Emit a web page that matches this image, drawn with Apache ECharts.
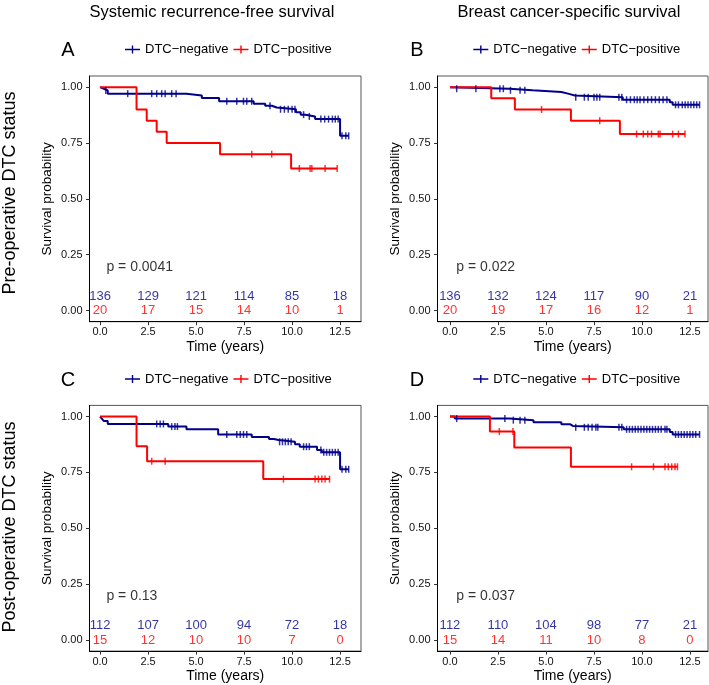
<!DOCTYPE html>
<html>
<head>
<meta charset="utf-8">
<script src="https://cdn.jsdelivr.net/npm/echarts@6/dist/echarts.min.js"></script>
<style>html,body{margin:0;padding:0;background:#fff}#c{width:709px;height:685px}</style>
</head>
<body>
<div id="c"></div>
<script>
// ---------- data ----------
const xTicks = [0, 2.5, 5, 7.5, 10, 12.5];
const yTicks = [0, 0.25, 0.5, 0.75, 1];
const legendNames = ['DTC\u2212negative', 'DTC\u2212positive'];
const panelLetters = ['A', 'B', 'C', 'D'];
const columnTitles = ['Systemic recurrence-free survival', 'Breast cancer-specific survival'];
const rowTitles = ['Pre-operative DTC status', 'Post-operative DTC status'];
const pValues = ['p = 0.0041', 'p = 0.022', 'p = 0.13', 'p = 0.037'];

// KM steps [time, survival after event]
const aNegSteps = [[0,1],[0.1,0.993],[0.2,0.985],[0.4,0.971],[4.5,0.963],[5.3,0.952],[6.2,0.937],[8.0,0.926],[8.6,0.917],[8.95,0.909],[9.2,0.901],[10.2,0.888],[10.45,0.877],[10.7,0.869],[11.2,0.857],[12.5,0.782]];
const aNegCens = [0.3,1.44,2.69,2.95,3.21,3.39,3.73,3.96,6.6,7.12,7.47,7.64,7.9,8.85,9.4,9.6,9.8,10.0,10.15,10.6,10.9,11.5,11.7,11.9,12.1,12.25,12.4,12.6,12.8,12.95];
const aPosSteps = [[0,1],[1.9,0.9],[2.43,0.85],[2.95,0.8],[3.47,0.75],[6.25,0.7],[9.95,0.636]];
const aPosCens = [7.9,8.94,10.38,10.94,11.03,11.72,12.35];

const bNegSteps = [[0,1],[0.1,0.993],[3.1,0.986],[4.3,0.978],[5.8,0.970],[6.2,0.963],[6.5,0.955],[9.0,0.944],[11.45,0.932],[11.6,0.921]];
const bNegCens = [0.35,1.35,2.6,2.78,3.15,3.65,3.9,6.55,7.0,7.2,7.5,7.65,7.8,8.8,8.95,9.2,9.4,9.6,9.75,9.9,10.1,10.3,10.5,10.7,10.9,11.1,11.3,11.75,11.9,12.1,12.25,12.4,12.55,12.7,12.85,13.0];
const bPosSteps = [[0,1],[2.15,0.95],[3.38,0.9],[6.3,0.85],[8.85,0.79]];
const bPosCens = [4.77,7.8,9.72,10.07,10.3,10.5,10.85,10.94,11.6,11.9,12.24];

const cNegSteps = [[0,1],[0.1,0.99],[0.2,0.98],[0.4,0.967],[3.55,0.955],[4.5,0.943],[6.15,0.92],[7.9,0.909],[8.8,0.90],[9.05,0.895],[9.3,0.887],[10.15,0.876],[10.4,0.865],[11.3,0.85],[11.55,0.84],[12.5,0.764]];
const cNegCens = [2.95,3.13,3.3,3.73,3.9,4.03,6.6,7.12,7.3,7.47,7.64,9.35,9.5,9.65,9.8,9.95,10.6,10.75,10.9,11.5,11.65,11.8,11.95,12.1,12.25,12.4,12.6,12.8,12.95];
const cPosSteps = [[0,1],[1.9,0.867],[2.45,0.8],[8.5,0.72]];
const cPosCens = [2.69,3.39,9.55,11.2,11.37,11.55,11.72,11.95];

const dNegSteps = [[0,1],[0.25,0.991],[3.1,0.984],[4.35,0.975],[5.8,0.966],[6.25,0.958],[6.4,0.952],[9.05,0.943],[11.45,0.931],[11.6,0.92]];
const dNegCens = [0.35,2.86,3.3,3.65,3.9,6.55,7.0,7.2,7.4,7.6,7.7,8.8,8.95,9.2,9.35,9.5,9.65,9.8,9.95,10.1,10.25,10.4,10.55,10.7,10.85,11.0,11.2,11.3,11.75,11.9,12.05,12.2,12.35,12.5,12.65,12.8,13.0];
const dPosSteps = [[0,1],[2.08,0.933],[3.35,0.861],[6.3,0.775]];
const dPosCens = [2.57,3.28,9.46,10.6,11.2,11.37,11.55,11.72,11.85];

// numbers at risk at xTicks
const aNegRisk = [136,129,121,114,85,18];
const aPosRisk = [20,17,15,14,10,1];
const bNegRisk = [136,132,124,117,90,21];
const bPosRisk = [20,19,17,16,12,1];
const cNegRisk = [112,107,100,94,72,18];
const cPosRisk = [15,12,10,10,7,0];
const dNegRisk = [112,110,104,98,77,21];
const dPosRisk = [15,14,11,10,8,0];

// ---------- build ----------
const BLUE = '#00008B', RED = '#FF0000';
const FONT = '"Liberation Sans", Arial, Helvetica, sans-serif';
const plusIcon = 'path://M0,3.2 H15 V4.8 H0 Z M6.8,0 H8.2 V8 H6.8 Z';

const panels = [
  {neg:aNegSteps, negC:aNegCens, pos:aPosSteps, posC:aPosCens, nr:aNegRisk, pr:aPosRisk, grid:{left:89.5, top:76, width:271.5, height:245.7}, xmin:-0.55, xmax:13.59, legend:{left:125, top:43}},
  {neg:bNegSteps, negC:bNegCens, pos:bPosSteps, posC:bPosCens, nr:bNegRisk, pr:bPosRisk, grid:{left:437.5, top:76, width:270.5, height:245.7}, xmin:-0.65, xmax:13.44, legend:{left:473.3, top:43}},
  {neg:cNegSteps, negC:cNegCens, pos:cPosSteps, posC:cPosCens, nr:cNegRisk, pr:cPosRisk, grid:{left:89.5, top:405.4, width:271.5, height:245.7}, xmin:-0.55, xmax:13.59, legend:{left:125, top:372.5}},
  {neg:dNegSteps, negC:dNegCens, pos:dPosSteps, posC:dPosCens, nr:dNegRisk, pr:dPosRisk, grid:{left:437.5, top:405.4, width:270.5, height:245.7}, xmin:-0.65, xmax:13.44, legend:{left:473.3, top:372.5}}
];

function survAt(steps, t) {
  let s = steps[0][1];
  for (const [ti, si] of steps) { if (ti <= t) s = si; }
  return s;
}
function lineData(steps, cens) {
  const d = steps.slice();
  const last = Math.max(...cens);
  if (last > d[d.length - 1][0]) d.push([last, d[d.length - 1][1]]);
  return d;
}

const grids = [], xAxes = [], yAxes = [], series = [], legends = [];
panels.forEach((p, i) => {
  grids.push(Object.assign({show:true, borderColor:'#555', borderWidth:1, containLabel:false}, p.grid));
  xAxes.push({
    gridIndex:i, type:'value', min:p.xmin, max:p.xmax,
    name:'Time (years)', nameLocation:'middle', nameGap:18,
    nameTextStyle:{fontSize:14, color:'#000', fontFamily:FONT},
    splitLine:{show:false},
    axisLine:{show:true, onZero:false, lineStyle:{color:'#000', width:1}},
    axisTick:{show:true, customValues:xTicks, length:3.5, lineStyle:{color:'#333'}},
    axisLabel:{customValues:xTicks, formatter:v => Number(v).toFixed(1), fontSize:11, color:'#111', margin:5, fontFamily:FONT}
  });
  yAxes.push({
    gridIndex:i, type:'value', min:-0.05, max:1.05,
    name:'Survival probability', nameLocation:'middle', nameGap:35,
    nameTextStyle:{fontSize:13.5, color:'#000', fontFamily:FONT},
    splitLine:{show:false},
    axisLine:{show:true, onZero:false, lineStyle:{color:'#000', width:1}},
    axisTick:{show:true, customValues:yTicks, length:3.5, lineStyle:{color:'#333'}},
    axisLabel:{customValues:yTicks, formatter:v => Number(v).toFixed(2), fontSize:11, color:'#111', margin:7, fontFamily:FONT}
  });
  const groups = [[p.neg, p.negC, BLUE, legendNames[0], p.nr, 0.063], [p.pos, p.posC, RED, legendNames[1], p.pr, 0]];
  groups.forEach(([steps, cens, col, name, risk, rowY]) => {
    series.push({
      type:'line', name, xAxisIndex:i, yAxisIndex:i, step:'end', showSymbol:false, symbol:'none',
      data:lineData(steps, cens), lineStyle:{color:col, width:2}, itemStyle:{color:col}, z:3
    });
    series.push({
      type:'scatter', name:name + ' censored ' + i, xAxisIndex:i, yAxisIndex:i,
      symbol:'rect', symbolSize:[1.5, 7], itemStyle:{color:col},
      data:cens.map(t => [t, survAt(steps, t)]), z:4
    });
    series.push({
      type:'scatter', name:name + ' risk ' + i, xAxisIndex:i, yAxisIndex:i,
      symbolSize:1, itemStyle:{color:'rgba(0,0,0,0)'},
      data:xTicks.map((t, k) => [t, rowY, risk[k]]),
      label:{show:true, position:'inside', formatter:q => String(q.value[2]), color:col, fontSize:13, fontFamily:FONT}
    });
  });
  series.push({
    type:'scatter', name:'pval ' + i, xAxisIndex:i, yAxisIndex:i,
    symbolSize:1, itemStyle:{color:'rgba(0,0,0,0)'},
    data:[[0.33, 0.195, pValues[i]]],
    label:{show:true, position:'inside', align:'left', formatter:q => q.value[2], color:'#000', fontSize:14, fontFamily:FONT}
  });
  legends.push({
    left:p.legend.left, top:p.legend.top, padding:0, itemGap:5, itemWidth:15, itemHeight:8,
    selectedMode:false,
    textStyle:{fontSize:13, color:'#000', fontFamily:FONT},
    data:legendNames.map(n => ({name:n, icon:plusIcon}))
  });
});

const letterPos = [[68,50.5],[417,50.5],[68,380],[417,380]];
const graphics = [];
columnTitles.forEach((t, k) => graphics.push({type:'text', x:[212,569][k], y:12, style:{text:t, font:'16.5px ' + FONT, fill:'#000', align:'center', verticalAlign:'middle'}}));
panelLetters.forEach((t, k) => graphics.push({type:'text', x:letterPos[k][0], y:letterPos[k][1], style:{text:t, font:'20px ' + FONT, fill:'#000', align:'center', verticalAlign:'middle'}}));
rowTitles.forEach((t, k) => graphics.push({type:'text', x:10, y:[193,527][k], rotation:Math.PI/2, style:{text:t, font:'18px ' + FONT, fill:'#000', align:'center', verticalAlign:'middle'}}));

const chart = echarts.init(document.getElementById('c'), null, {renderer:'canvas'});
chart.setOption({
  animation:false,
  backgroundColor:'#fff',
  textStyle:{fontFamily:FONT},
  grid:grids, xAxis:xAxes, yAxis:yAxes, legend:legends, series, graphic:graphics
});
</script>
</body>
</html>
